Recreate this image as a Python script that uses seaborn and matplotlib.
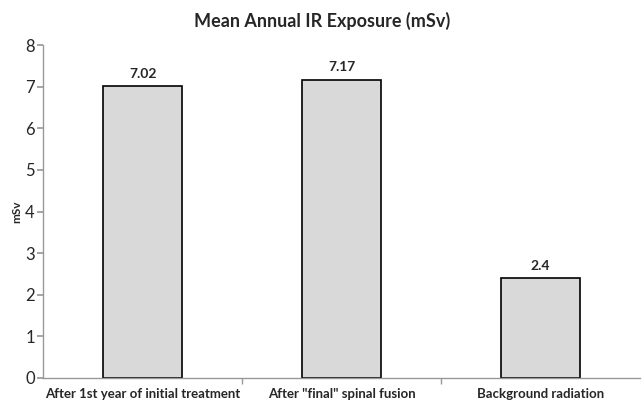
import numpy as np
import pandas as pd
import matplotlib
matplotlib.use("Agg")
import matplotlib.pyplot as plt
import seaborn as sns

categories = ["After 1st year of initial treatment", 'After "final" spinal fusion', "Background radiation"]
values = [7.02, 7.17, 2.4]
value_labels = ["7.02", "7.17", "2.4"]
y_ticks = [0, 1, 2, 3, 4, 5, 6, 7, 8]

df = pd.DataFrame({"category": categories, "mSv": values})

sns.set_theme(style="white")
plt.rcParams["font.family"] = ["Lato", "DejaVu Sans"]

fig = plt.figure(figsize=(6.44, 4.0), dpi=100)
ax = fig.add_axes([0.067, 0.055, 0.927, 0.8325])

sns.barplot(data=df, x="category", y="mSv", color="#d9d9d9", edgecolor="black",
            linewidth=1.2, width=0.4, saturation=1, ax=ax)

for i, (v, lab) in enumerate(zip(values, value_labels)):
    ax.text(i, v + 0.15, lab, ha="center", va="bottom", fontsize=10, fontweight="bold")

ax.set_ylim(0, 8)
ax.set_xlim(-0.5, 2.5)
ax.set_yticks(y_ticks)
ax.set_yticklabels([str(t) for t in y_ticks], fontsize=12)
ax.set_ylabel("mSv", fontsize=8.5, fontweight="bold", labelpad=2)
ax.set_xlabel("")
ax.set_xticks(range(len(categories)))
ax.set_xticklabels(categories, fontsize=9.5, fontweight="bold")
ax.tick_params(axis="x", which="major", length=0, pad=7)
ax.set_xticks([0.5, 1.5], minor=True)
ax.tick_params(axis="x", which="minor", length=4, color="#999999", direction="out", bottom=True)
ax.tick_params(axis="y", length=4, color="#999999", direction="out", left=True, pad=2)

sns.despine(ax=ax)
for s in ["left", "bottom"]:
    ax.spines[s].set_color("#999999")
    ax.spines[s].set_linewidth(1)

fig.suptitle("Mean Annual IR Exposure (mSv)", fontsize=13, fontweight="bold", y=0.97)

fig.savefig("out.png", dpi=100)
